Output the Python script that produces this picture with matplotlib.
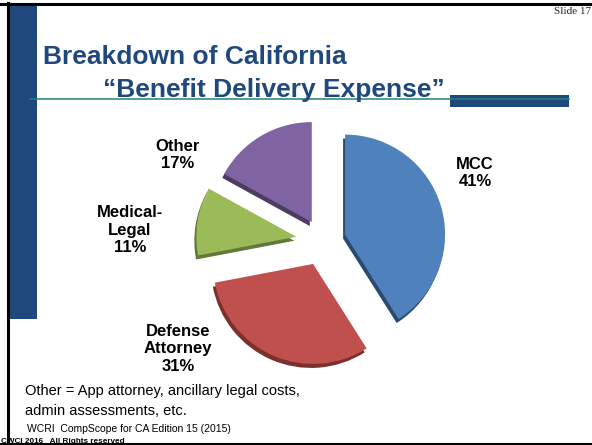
import numpy as np
import matplotlib
import matplotlib.pyplot as plt
from matplotlib.patches import Rectangle

# Set backend
matplotlib.use("Agg")

# Slice data (clockwise from 12 o'clock)
labels = ["MCC", "Defense\nAttorney", "Medical-\nLegal", "Other"]
shares = [41, 31, 11, 17]

# Styling
colors = ["#4F81BD", "#C0504D", "#9BBB59", "#8064A2"]
shade = ["#2B4A6F", "#7C302E", "#63783A", "#4C3C63"]
explode = [0.23, 0.25, 0.27, 0.22]   # fraction of radius
label_xy = [(475, 173), (178, 349), (130, 230), (178, 155)]

plt.rcParams['font.family'] = ['Liberation Sans', 'DejaVu Sans']

W, H = 592, 445
fig = plt.figure(figsize=(W / 100, H / 100), dpi=100)
ax = fig.add_axes([0, 0, 1, 1])

# Pie, with a darker copy underneath for the 3D edge
cx, cy, R = 323, H - 241, 100
expl = [e * R for e in explode]  # pie() takes explode in data units
ax.pie(shares, explode=expl, colors=shade, startangle=90, counterclock=False,
       center=(cx - 2, cy - 4), radius=R, wedgeprops=dict(linewidth=0))
ax.pie(shares, explode=expl, colors=colors, startangle=90, counterclock=False,
       center=(cx, cy), radius=R, wedgeprops=dict(linewidth=0))

for lab, pct, (x, y) in zip(labels, shares, label_xy):
    ax.text(x, H - y, "%s\n%d%%" % (lab, pct), ha='center', va='center',
            fontsize=12, fontweight='bold', color='black')

# Slide decoration
navy = "#1F497D"
ax.add_patch(Rectangle((9, H - 319), 28, 314, color=navy, lw=0))
ax.add_patch(Rectangle((450, H - 107), 119, 12, color=navy, lw=0))
ax.plot([30, 569], [H - 99, H - 99], color="#23807F", lw=1.1)
ax.plot([0, W], [H - 4, H - 4], color='black', lw=2.2)
ax.plot([7.5, 7.5], [0, H - 3], color='black', lw=2.2)
ax.plot([0, W], [H - 444, H - 444], color='black', lw=2.2)

# Titles and notes
ax.text(43, H - 64, "Breakdown of California", fontsize=19, fontweight='bold',
        color=navy, ha='left', va='baseline')
ax.text(103, H - 97, "\u201cBenefit Delivery Expense\u201d", fontsize=19,
        fontweight='bold', color=navy, ha='left', va='baseline')
ax.text(591, H - 14, "Slide 17", fontsize=8, family='Liberation Serif',
        ha='right', va='baseline', color='#222222')
ax.text(25, H - 395, "Other = App attorney, ancillary legal costs,", fontsize=10.5,
        ha='left', va='baseline')
ax.text(25, H - 415, "admin assessments, etc.", fontsize=10.5, ha='left', va='baseline')
ax.text(27, H - 432, "WCRI  CompScope for CA Edition 15 (2015)", fontsize=7.5,
        ha='left', va='baseline')
ax.text(1, H - 443, "CWCI 2016   All Rights reserved", fontsize=5.9,
        fontweight='bold', ha='left', va='baseline')

ax.set_xlim(0, W)
ax.set_ylim(0, H)
ax.set_aspect('auto')
ax.axis('off')

fig.savefig('out.png', dpi=100)
print('Figure saved.')
